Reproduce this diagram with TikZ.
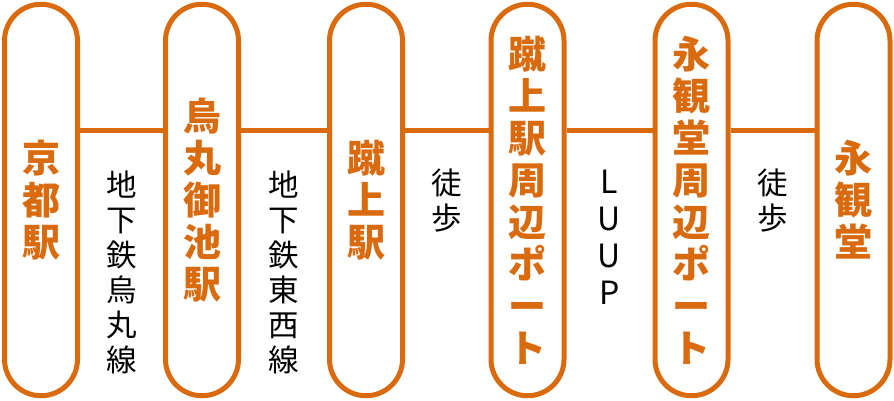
\documentclass[tikz,border=0pt]{standalone}
\usepackage{fontspec}
\setmainfont{Noto Sans CJK JP}
\definecolor{routeorange}{HTML}{D96A0E}

\begin{document}
\begin{tikzpicture}
  [x=1pt,y=-1pt,
    pill/.style={draw=routeorange,line width=5pt,fill=white,rounded corners=36.5pt,
      minimum width=73pt,minimum height=391.5pt,inner sep=0pt,align=center,
      text=routeorange,font=\bfseries\fontsize{38}{42}\selectfont},
    route/.style={anchor=north,inner sep=0pt,align=center,text=black,
      font=\fontsize{30.5}{35}\selectfont},
    link/.style={draw=routeorange,line width=5pt},
]
  \useasboundingbox (0,0) rectangle (894,400);
  \node[pill] (kyoto) at (41,200) {京\\都\\駅};
  \node[pill] (oike) at (202,200) {烏\\丸\\御\\池\\駅};
  \node[pill] (keage) at (366,200) {蹴\\上\\駅};
  \node[pill] (keageport) at (527.5,200) {蹴\\上\\駅\\周\\辺\\ポ\\ー\\ト};
  \node[pill] (eikanport) at (691.5,200) {永\\観\\堂\\周\\辺\\ポ\\ー\\ト};
  \node[pill] (eikando) at (853.5,200) {永\\観\\堂};

  \draw[link] ([yshift=70pt]kyoto.east) -- ([yshift=70pt]oike.west);
  \draw[link] ([yshift=70pt]oike.east) -- ([yshift=70pt]keage.west);
  \draw[link] ([yshift=70pt]keage.east) -- ([yshift=70pt]keageport.west);
  \draw[link] ([yshift=70pt]keageport.east) -- ([yshift=70pt]eikanport.west);
  \draw[link] ([yshift=70pt]eikanport.east) -- ([yshift=70pt]eikando.west);

  \node[route] (karasuma) at (121.5,171) {地\\下\\鉄\\烏\\丸\\線};
  \node[route] (tozai) at (284,171) {地\\下\\鉄\\東\\西\\線};
  \node[route] (walka) at (446.5,169) {徒\\歩};
  \node[route,font=\fontsize{32}{37}\selectfont] (luup) at (609.5,170) {L\\U\\U\\P};
  \node[route] (walkb) at (772.5,169) {徒\\歩};
\end{tikzpicture}
\end{document}
